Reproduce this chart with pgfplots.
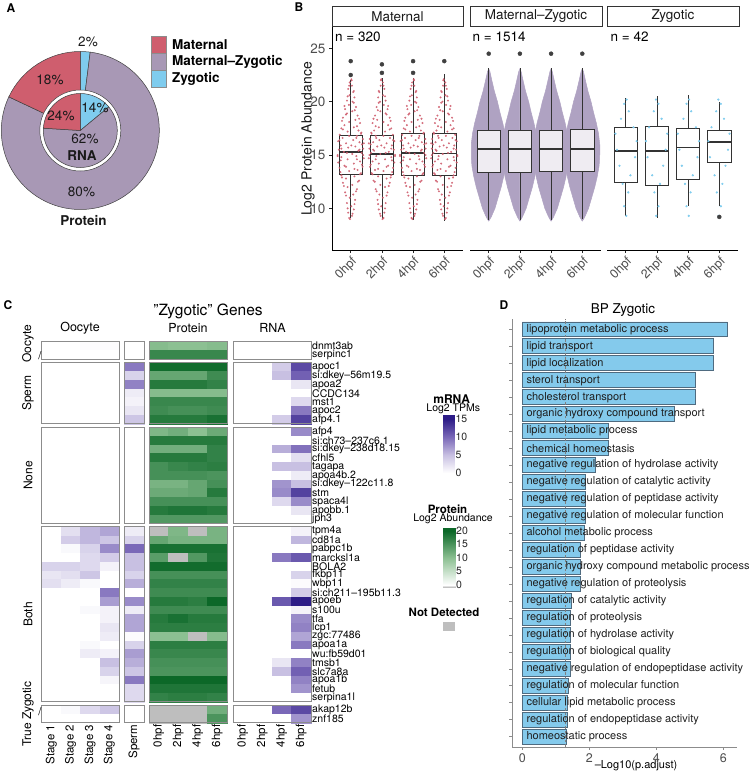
\documentclass[border=0pt]{standalone}
\usepackage{fontspec}
\setmainfont{TeX Gyre Heros}
\usepackage{pgfplots}
\usepackage{pgfplotstable}
\pgfplotsset{compat=1.18}
\usepgfplotslibrary{statistics}

\newcommand{\fs}[1]{\fontsize{#1}{#1}\selectfont}

\definecolor{matred}{HTML}{CF5E6E}
\definecolor{mzpurp}{HTML}{A898B5}
\definecolor{zygblue}{HTML}{7FCCEE}
\definecolor{mzcloud}{HTML}{AFA2C2}
\definecolor{tickgray}{HTML}{4D4D4D}
\definecolor{framegray}{HTML}{8C8C8C}
\definecolor{barblue}{HTML}{84CAEC}
\definecolor{barline}{HTML}{4F6B80}
\definecolor{nagray}{HTML}{BEBEBE}

\pgfplotsset{
  /pgf/number format/assume math mode=true,
  colormap={purp}{rgb255(0pt)=(255,255,255) rgb255(5pt)=(255,255,255) rgb255(10pt)=(200,192,226) rgb255(15pt)=(122,104,184) rgb255(20pt)=(45,28,135) rgb255(25pt)=(45,28,135)},
  colormap={grn}{rgb255(0pt)=(190,190,190) rgb255(4pt)=(190,190,190) rgb255(5pt)=(255,255,255) rgb255(15pt)=(140,192,146) rgb255(25pt)=(12,104,40)},
  facet/.style={
    scale only axis, width=131pt, height=223pt, anchor=south west,
    xmin=0.4, xmax=4.6, ymin=6.1, ymax=27.0,
    xtick={1,2,3,4}, xticklabels={0hpf,2hpf,4hpf,6hpf},
    x tick label style={rotate=45, anchor=north east, font=\fs{12.5}, text=tickgray, inner sep=1.5pt},
    y tick label style={font=\fs{13.5}, text=tickgray},
    tick align=outside, major tick length=3pt,
    tick style={black!85, line width=0.6pt},
    axis line style={black, line width=0.8pt},
    axis x line*=bottom, clip=false,
  },
  box/.style={draw=black!80, line width=0.8pt, fill=white, fill opacity=0.65, solid,
    mark=*, mark size=2pt, mark options={draw=black!75, fill=black!75, fill opacity=1, line width=0.4pt},
    boxplot/box extend=0.75, boxplot/whisker extend=0,
    boxplot/every median/.style={line width=1.8pt}, boxplot/draw direction=y},
  matdot/.style={only marks, mark=*, mark size=0.8pt, matred, opacity=0.8},
  zygdot/.style={only marks, mark=*, mark size=0.9pt, zygblue},
}

% jittered points of one Maternal box (offset from box centre, value)
\pgfplotstableread{
dx y
-0.05 9.1
0.04 9.3
-0.08 9.6
0.1 9.9
0.02 10.2
-0.12 10.5
0.14 10.8
-0.03 11.0
0.08 11.3
-0.18 11.5
0.2 11.8
-0.1 12.0
0.05 12.2
-0.25 12.4
0.27 12.6
-0.15 12.8
0.12 13.0
-0.3 13.1
0.33 13.3
-0.05 13.5
0.22 13.6
-0.36 13.8
0.38 13.9
-0.2 14.0
0.1 14.2
-0.4 14.3
0.3 14.4
-0.1 14.6
0.42 14.7
-0.3 14.8
0.18 14.9
-0.42 15.0
0.05 15.1
0.35 15.2
-0.22 15.3
0.25 15.4
-0.38 15.5
0.4 15.6
-0.08 15.7
0.15 15.8
-0.32 15.9
0.36 16.0
-0.15 16.1
0.28 16.2
-0.4 16.3
0.08 16.4
0.39 16.5
-0.26 16.6
0.2 16.8
-0.35 16.9
0.33 17.0
-0.1 17.2
0.25 17.3
-0.3 17.5
0.1 17.6
-0.2 17.8
0.3 18.0
-0.05 18.1
0.15 18.3
-0.25 18.5
0.22 18.7
-0.12 18.9
0.05 19.1
-0.18 19.3
0.17 19.5
-0.06 19.7
0.1 19.9
-0.12 20.1
0.12 20.4
-0.04 20.6
0.08 20.9
-0.08 21.2
0.04 21.5
-0.03 21.8
0.02 22.1
-0.02 9.0
0.06 9.5
-0.1 10.0
0.12 10.4
-0.15 11.2
0.17 11.6
-0.22 12.1
0.23 12.5
-0.28 12.9
0.3 13.2
-0.33 13.4
0.12 13.7
-0.15 13.9
0.36 14.1
-0.32 14.5
0.2 14.6
-0.42 14.9
0.4 15.0
-0.12 15.2
0.28 15.5
-0.3 15.6
0.02 15.9
0.42 16.1
-0.36 16.4
0.18 16.6
-0.05 16.8
0.34 17.1
-0.25 17.4
0.2 17.7
-0.28 18.2
0.27 18.4
-0.15 18.8
0.13 19.2
-0.2 19.6
0.06 20.0
-0.1 20.5
0.1 21.0
-0.05 21.5
0.03 22.0
}\matpts

% outline of the dense Maternal-Zygotic point cloud
\pgfplotstableread{
dx y
0 8.8
0.08 9.2
0.2 10
0.3 11
0.4 12
0.48 13
0.54 14
0.56 15
0.56 16
0.52 17
0.45 18
0.36 19
0.28 20
0.18 21
0.1 22
0.04 22.8
0 23.1
-0.04 22.8
-0.1 22
-0.18 21
-0.28 20
-0.36 19
-0.45 18
-0.52 17
-0.56 16
-0.56 15
-0.54 14
-0.48 13
-0.4 12
-0.3 11
-0.2 10
-0.08 9.2
0 8.8
}\mzshape

\pgfplotstableread{
dx y
0.02 9.3
-0.05 10.2
0.08 11.5
-0.1 12.3
0.15 13.1
-0.2 14.0
0.3 14.8
-0.28 15.5
0.35 16.3
-0.33 17.0
0.25 17.6
-0.15 18.4
0.1 19.1
-0.05 19.8
0.03 20.2
}\zygpts

% heatmap: row centre (px from top), gene, oocyte stages, sperm, protein, RNA; -5 = not detected
\pgfplotstableread{
y g o1 o2 o3 o4 sp p1 p2 p3 p4 r1 r2 r3 r4
346.08 dnmt3ab 0 0 0.3 0.3 0 10.5 10 10 10.5 0 0 0 0
354.83 serpinc1 0 0 0 0 0 16.5 16.5 16.5 16.5 0 0 0 0
366.98 apoc1 0 0 0 0 9 19.5 19.5 19.5 19.5 0 0 4 12
375.73 si:dkey--56m19.5 0 0 0 0 3.5 13 13 13 16 0 0 5 10.5
384.48 apoa2 0 0 0 0 8.5 18 18 18 17 0 0 0 2
393.23 CCDC134 0 0 0 0 1.5 10.5 10.5 10.5 10.5 0 0 0 0
401.98 mst1 0 0 0 0 1 16.5 16.5 16.5 16.5 0 0 0 3
410.73 apoc2 0 0 0 0 2 16 15.5 15.5 16 0 0 0 9
419.48 afp4.1 0 0 0 0 4.5 18 18 18 19 0 0 4 12.5
431.63 afp4 0 0 0 0 0 11 12 10 12.5 0 0 0 8
440.38 si:ch73--237c6.1 0 0 0 0 0 18 18 18 18 0 0 0 0
449.13 si:dkey--238d18.15 0 0 0 0 0 12 12 12 17 0 0 6 9.5
457.88 cfhl5 0 0 0 0 0 18 18 18 17 0 0 0 2.5
466.63 tagapa 0 0 0 0 0 15.5 16.5 17 17.5 0 0 5 5
475.38 apoa4b.2 0 0 0 0 0 15.5 15.5 15.5 15 0 0 0 1.5
484.13 si:dkey--122c11.8 0 0 0 0 0 11.5 11.5 13 15.5 0 0 7.5 5
492.88 stm 0 0 0 0 0 12.5 12.5 13 18 0 0 8 12.5
501.63 spaca4l 0 0 0 0 0 15.5 15.5 15.5 15.5 0 0 3 8
510.38 apobb.1 0 0 0 0 0 18 18.5 18.5 18 0 0 0 2
519.13 jph3 0 0 0 0 0 14.5 14.5 14.5 14.5 0 0 0 0
531.28 tpm4a 0 2.5 5.5 6.5 1.5 -5 11 -5 11.5 0 0 0 1
540.03 cd81a 0 4 5.5 4.5 3.5 13 11.5 11.5 11.5 0 0 0 5.5
548.78 pabpc1b 0 0.5 3.5 8 10 19 19 19 19 0 0 0 0
557.53 marcksl1a 0 0 3 4 5 14 -5 14.5 18.5 0 0 9 11
566.28 BOLA2 3.5 3.5 3 1 5 19.5 19.5 19.5 19.5 0 0 0 0
575.03 fkbp11 2 2.5 4.5 0 3.5 15.5 15.5 15.5 15.5 0 0 0 3.5
583.78 wbp11 2.5 1.5 0.5 0 6 17 17 17 17 0 0 0 0.3
592.53 si:ch211--195b11.3 0 0 0 9 0 16 16 16 16 0 0 0 4
601.28 apoeb 0 0 0 7 8 18 18 17.5 20 0 0 11 15
610.03 s100u 0 0 0.5 1 1.5 16 16 16 16 0 0 0 1
618.78 tfa 0 0 0 1 6.5 18 19 18 18 0 0 0 8
627.53 lcp1 0 0 0 2 6.5 17.5 17.5 17.5 17.5 0 0 0 8.5
636.28 zgc:77486 0 0 0 1.5 0.3 10 10 -5 10.5 0 0 0 6.5
645.03 apoa1a 0 0 0.5 0 3.5 17.5 17.5 17.5 17.5 0 0 0 9
653.78 wu:fb59d01 0 0 1.5 1 7 16.5 16.5 16.5 16.5 0 0 0 0
662.53 tmsb1 0 0 0 5 6 15.5 15.5 15.5 15.5 0 0 2 8.5
671.28 slc7a8a 0 0 0 3.5 4.5 15 15 15 15 0 0 5 10.5
680.03 apoa1b 0 0 0 0.8 9 20 20 20 20 0 0 0 8.5
688.78 fetub 0 0 0 0 3 18.5 18.5 18.5 18.5 0 0 0 7.5
697.53 serpina1l 0 0 0 0 3 17 17.5 17.5 17 0 0 0 0
709.68 akap12b 0 0.5 3 4.5 0 -5 -5 -5 12 0 0 10 12
718.43 znf185 0 0 0 0 0 -5 -5 -5 15 0 0 0 7.5
}\heat

\newcommand{\hcol}[4]{\addplot[scatter, only marks, mark=square*, mark size=4.375pt,
  scatter/use mapped color={draw=mapped color, fill=mapped color},
  colormap name=#1, point meta=\thisrow{#2}, mark options={xscale=#4, line width=0.3pt}]
  table[x expr=#3, y expr=-\thisrow{y}] {\heat};}

\begin{document}
\begin{tikzpicture}
\path[use as bounding box] (0pt,0pt) rectangle (753pt,-772pt);

% ---------------- A: donut ----------------
\node[anchor=base west, font=\bfseries\fs{12}] at (3pt,-12pt) {A};
\def\protM{18}\def\protMZ{80}\def\protZ{2}
\def\rnaM{24}\def\rnaMZ{62}\def\rnaZ{14}
\pgfmathsetmacro\pA{90-3.6*\protZ}
\pgfmathsetmacro\pB{\pA-3.6*\protMZ}
\pgfmathsetmacro\rA{90-3.6*\rnaZ}
\pgfmathsetmacro\rB{\rA-3.6*\rnaMZ}
\begin{axis}[at={(80.3pt,-130.5pt)}, anchor=center, scale only axis, width=170pt, height=170pt,
  xmin=-85, xmax=85, ymin=-85, ymax=85, hide axis, clip=false]
\draw[black!75, line width=0.5pt, fill=zygblue] (axis cs:0,0) -- ++(90:79pt) arc[start angle=90, end angle=\pA, radius=79pt] -- cycle;
\draw[black!75, line width=0.5pt, fill=mzpurp] (axis cs:0,0) -- ++(\pA:79pt) arc[start angle=\pA, end angle=\pB, radius=79pt] -- cycle;
\draw[black!75, line width=0.5pt, fill=matred] (axis cs:0,0) -- ++(\pB:79pt) arc[start angle=\pB, end angle=-270, radius=79pt] -- cycle;
\draw[black!75, line width=0.5pt, fill=white] (axis cs:0,0) circle[radius=40.5pt];
\draw[black!75, line width=0.5pt, fill=zygblue] (axis cs:0,0) -- ++(90:37pt) arc[start angle=90, end angle=\rA, radius=37pt] -- cycle;
\draw[black!75, line width=0.5pt, fill=mzpurp] (axis cs:0,0) -- ++(\rA:37pt) arc[start angle=\rA, end angle=\rB, radius=37pt] -- cycle;
\draw[black!75, line width=0.5pt, fill=matred] (axis cs:0,0) -- ++(\rB:37pt) arc[start angle=\rB, end angle=-270, radius=37pt] -- cycle;
\end{axis}
\begin{scope}[every node/.style={font=\fs{13.5}, text=black!90}]
\node at (88pt,-42pt) {\protZ\%};
\node at (50pt,-80pt) {\protM\%};
\node at (61pt,-116pt) {\rnaM\%};
\node at (95pt,-107.5pt) {\rnaZ\%};
\node at (85pt,-139pt) {\rnaMZ\%};
\node at (81.5pt,-192pt) {\protMZ\%};
\node[font=\bfseries\fs{13.5}] at (82pt,-156pt) {RNA};
\node[font=\bfseries\fs{13.5}] at (83.5pt,-221pt) {Protein};
\end{scope}
\foreach \c/\t/\y in {matred/Maternal/35.7, mzpurp/Maternal--Zygotic/53, zygblue/Zygotic/70.3}{
  \draw[black!45, line width=0.4pt, fill=\c] (150.7pt,-\y*1pt) rectangle (165.7pt,-\y*1pt-17.3pt);
  \node[anchor=west, font=\bfseries\fs{13.5}, inner sep=0pt] at (172pt,-\y*1pt-8.8pt) {\t};
}

% ---------------- B: boxplots ----------------
\node[anchor=base west, font=\bfseries\fs{12}] at (291pt,-11pt) {B};
\node[rotate=90, font=\fs{14}, text=black!90] at (308pt,-139pt) {Log2 Protein Abundance};

\begin{axis}[facet, at={(332pt,-250pt)}, axis y line*=left, ytick={10,15,20,25}]
\addplot[matdot] table[x expr=1+\thisrow{dx}, y=y] {\matpts};
\addplot[matdot] table[x expr=2-\thisrow{dx}, y=y] {\matpts};
\addplot[matdot] table[x expr=3+\thisrow{dx}, y=y] {\matpts};
\addplot[matdot] table[x expr=4-\thisrow{dx}, y=y] {\matpts};
\addplot[box, boxplot prepared={median=15.25, upper quartile=16.87, lower quartile=13.2, upper whisker=22.0, lower whisker=9.1, draw position=1}] coordinates {(0,23.8) (0,22.5)};
\addplot[box, boxplot prepared={median=15.1, upper quartile=16.8, lower quartile=13.2, upper whisker=22.2, lower whisker=9.05, draw position=2}] coordinates {(0,23.5) (0,22.7)};
\addplot[box, boxplot prepared={median=15.2, upper quartile=17.0, lower quartile=13.1, upper whisker=22.2, lower whisker=8.9, draw position=3}] coordinates {(0,23.8) (0,22.7)};
\addplot[box, boxplot prepared={median=15.15, upper quartile=17.0, lower quartile=13.1, upper whisker=22.6, lower whisker=8.8, draw position=4}] coordinates {(0,23.8)};
\end{axis}

\begin{axis}[facet, at={(470pt,-250pt)}, axis y line=none]
\addplot[fill=mzcloud, draw=mzcloud, line width=0.5pt] table[x expr=1+\thisrow{dx}, y=y] {\mzshape};
\addplot[fill=mzcloud, draw=mzcloud, line width=0.5pt] table[x expr=2+\thisrow{dx}, y=y] {\mzshape};
\addplot[fill=mzcloud, draw=mzcloud, line width=0.5pt] table[x expr=3+\thisrow{dx}, y=y] {\mzshape};
\addplot[fill=mzcloud, draw=mzcloud, line width=0.5pt] table[x expr=4+\thisrow{dx}, y=y] {\mzshape};
\addplot[box, fill opacity=0.8, boxplot prepared={median=15.6, upper quartile=17.35, lower quartile=13.4, upper whisker=23.2, lower whisker=8.9, draw position=1}] coordinates {(0,24.5)};
\addplot[box, fill opacity=0.8, boxplot prepared={median=15.6, upper quartile=17.35, lower quartile=13.4, upper whisker=23.2, lower whisker=8.9, draw position=2}] coordinates {(0,24.5)};
\addplot[box, fill opacity=0.8, boxplot prepared={median=15.6, upper quartile=17.35, lower quartile=13.45, upper whisker=23.2, lower whisker=8.9, draw position=3}] coordinates {(0,24.5)};
\addplot[box, fill opacity=0.8, boxplot prepared={median=15.6, upper quartile=17.4, lower quartile=13.45, upper whisker=23.2, lower whisker=9.0, draw position=4}] coordinates {(0,24.5)};
\end{axis}

\begin{axis}[facet, at={(607pt,-250pt)}, axis y line=none]
\addplot[zygdot] table[x expr=1+\thisrow{dx}, y=y] {\zygpts};
\addplot[zygdot] table[x expr=2-\thisrow{dx}, y=y] {\zygpts};
\addplot[zygdot] table[x expr=3+\thisrow{dx}, y=y] {\zygpts};
\addplot[zygdot] table[x expr=4-\thisrow{dx}, y=y] {\zygpts};
\addplot[box, fill opacity=0.9, boxplot prepared={median=15.35, upper quartile=17.6, lower quartile=12.4, upper whisker=20.3, lower whisker=9.3, draw position=1}] coordinates {};
\addplot[box, fill opacity=0.9, boxplot prepared={median=15.35, upper quartile=17.65, lower quartile=12.2, upper whisker=20.5, lower whisker=9.1, draw position=2}] coordinates {};
\addplot[box, fill opacity=0.9, boxplot prepared={median=15.7, upper quartile=17.5, lower quartile=12.7, upper whisker=20.6, lower whisker=10.2, draw position=3}] coordinates {};
\addplot[box, fill opacity=0.9, boxplot prepared={median=16.2, upper quartile=17.3, lower quartile=14.35, upper whisker=20.0, lower whisker=10.2, draw position=4}] coordinates {(0,9.2)};
\end{axis}

\foreach \xa/\xb/\t in {332/463/Maternal, 470/602/Maternal--Zygotic, 607/739/Zygotic}{
  \draw[black!80, line width=0.8pt, fill=white] (\xa*1pt,-6pt) rectangle (\xb*1pt,-26.5pt);
  \node[font=\fs{13.5}, text=black!90] at ({(\xa+\xb)/2*1pt},-16.5pt) {\t};
}
\node[anchor=west, font=\fs{13.5}, inner sep=0pt] at (335pt,-36.5pt) {n = 320};
\node[anchor=west, font=\fs{13.5}, inner sep=0pt] at (472.5pt,-36.5pt) {n = 1514};
\node[anchor=west, font=\fs{13.5}, inner sep=0pt] at (610.5pt,-36.5pt) {n = 42};

% ---------------- C: heatmap ----------------
\node[anchor=base west, font=\bfseries\fs{12}] at (0pt,-309pt) {C};
\node[font=\fs{15.5}] at (208pt,-311pt) {"Zygotic" Genes};
\node[font=\fs{12.5}] at (80pt,-328pt) {Oocyte};
\node[font=\fs{12.5}] at (188pt,-328pt) {Protein};
\node[font=\fs{12.5}] at (272.5pt,-328pt) {RNA};

\begin{axis}[at={(41.7pt,-723pt)}, anchor=south west,
  scale only axis, width=269.3pt, height=381.3pt,
  xmin=41.7, xmax=311, ymin=-723, ymax=-341.7,
  point meta min=-5, point meta max=20,
  axis line style={draw=none}, clip=false,
  xtick={51.37,70.7,90.02,109.35,134,158.75,178.25,197.75,217.25,242.75,262.25,281.75,301.25},
  xticklabels={Stage 1,Stage 2,Stage 3,Stage 4,Sperm,0hpf,2hpf,4hpf,6hpf,0hpf,2hpf,4hpf,6hpf},
  x tick label style={rotate=90, anchor=east, font=\fs{11.5}, inner sep=1.5pt},
  ytick=data, yticklabels from table={\heat}{g}, yticklabel pos=right,
  y tick label style={anchor=west, font=\fs{10.5}, inner sep=1pt},
  tick style={draw=none}]
\hcol{purp}{o1}{51.37}{2.21}
\hcol{purp}{o2}{70.7}{2.21}
\hcol{purp}{o3}{90.02}{2.21}
\hcol{purp}{o4}{109.35}{2.21}
\hcol{purp}{sp}{134}{2.29}
\hcol{grn}{p1}{158.75}{2.23}
\hcol{grn}{p2}{178.25}{2.23}
\hcol{grn}{p3}{197.75}{2.23}
\hcol{grn}{p4}{217.25}{2.23}
\hcol{purp}{r1}{242.75}{2.23}
\hcol{purp}{r2}{262.25}{2.23}
\hcol{purp}{r3}{281.75}{2.23}
\hcol{purp}{r4}{301.25}{2.23}
\end{axis}
\foreach \xa/\xb in {41.7/119, 124/144, 149/227, 233/311}{
  \foreach \ya/\yb in {341.7/359.2, 362.6/423.85, 427.25/523.5, 526.9/701.9, 705.3/722.8}{
    \draw[framegray, line width=1pt] (\xa*1pt,-\ya*1pt) rectangle (\xb*1pt,-\yb*1pt);
  }
}
\begin{scope}[every node/.style={rotate=90, font=\fs{12}}]
\node at (28pt,-344pt) {Oocyte};
\node at (28pt,-393pt) {Sperm};
\node at (28pt,-475.4pt) {None};
\node at (28pt,-614.4pt) {Both};
\node at (28pt,-714pt) {True Zygotic};
\end{scope}
\node[font=\fs{11}] at (40pt,-356pt) {/};
\node[font=\fs{11}] at (40pt,-712pt) {/};

% legends of C
\node[anchor=base, font=\bfseries\fs{12}] at (451.7pt,-403pt) {mRNA};
\node[anchor=base, font=\fs{10.5}] at (453.3pt,-411pt) {Log2 TPMs};
\begin{axis}[at={(442.7pt,-475pt)}, anchor=south west, scale only axis, width=11.6pt, height=60pt,
  xmin=0, xmax=1, ymin=-0.5, ymax=16.1, point meta min=-5, point meta max=20,
  xtick=\empty, ytick={0,5,10,15}, yticklabel pos=right, tick align=inside, major tick length=2.5pt,
  tick style={white, line width=0.6pt}, axis line style={draw=black!20, line width=0.4pt},
  y tick label style={font=\fs{10.5}, text=black!85, inner sep=1pt}]
\addplot[surf, shader=interp, colormap name=purp, point meta=y] coordinates {
(0,-0.5) (1,-0.5)

(0,0) (1,0)

(0,5) (1,5)

(0,10) (1,10)

(0,15) (1,15)

(0,16.1) (1,16.1)
};
\end{axis}

\node[anchor=base, font=\bfseries\fs{11.5}] at (447.5pt,-513pt) {Protein};
\node[anchor=base, font=\fs{10.5}] at (453pt,-521.5pt) {Log2 Abundance};
\begin{axis}[at={(442.7pt,-587.3pt)}, anchor=south west, scale only axis, width=12.3pt, height=59.6pt,
  xmin=0, xmax=1, ymin=-0.96, ymax=21.1, point meta min=-5, point meta max=20,
  xtick=\empty, ytick={0,5,10,15,20}, yticklabel pos=right, tick align=inside, major tick length=2.5pt,
  tick style={white, line width=0.6pt}, axis line style={draw=black!20, line width=0.4pt},
  y tick label style={font=\fs{10.5}, text=black!85, inner sep=1pt}]
\addplot[surf, shader=interp, colormap name=grn, point meta=y] coordinates {
(0,-0.96) (1,-0.96)

(0,0) (1,0)

(0,10) (1,10)

(0,20) (1,20)

(0,21.1) (1,21.1)
};
\end{axis}

\node[anchor=base, font=\bfseries\fs{11.5}] at (444pt,-616pt) {Not Detected};
\fill[nagray] (443pt,-622pt) rectangle (455pt,-631pt);

% ---------------- D: GO bars ----------------
\node[anchor=base west, font=\bfseries\fs{12}] at (496pt,-309pt) {D};
\node[font=\fs{13.5}] at (623pt,-310pt) {BP Zygotic};
\node[font=\fs{11}] at (636pt,-766pt) {--Log10(p.adjust)};
\begin{axis}[at={(512.3pt,-746.9pt)}, anchor=south west,
  scale only axis, width=224.7pt, height=427.8pt,
  xmin=-0.3, xmax=6.41, ymin=0.4, ymax=25.6,
  axis x line*=bottom, axis y line*=left,
  axis line style={black!45, line width=0.8pt},
  xtick={0,2,4,6}, ytick={1,...,25}, yticklabel=\mbox{},
  tick align=outside, major tick length=3pt, tick style={black!45, line width=0.6pt},
  x tick label style={font=\fs{12.5}, text=tickgray},
  clip=false]
\addplot[xbar, bar width=0.88, fill=barblue, draw=barline, line width=0.6pt] coordinates {
(6.12,25) (5.70,24) (5.70,23) (5.16,22) (5.16,21) (4.54,20) (2.57,19) (2.57,18)
(2.19,17) (1.89,16) (1.89,15) (1.89,14) (1.85,13) (1.73,12) (1.73,11) (1.74,10)
(1.46,9) (1.42,8) (1.42,7) (1.42,6) (1.44,5) (1.36,4) (1.34,3) (1.34,2) (1.32,1)};
\addplot[black!50, dash pattern=on 2.5pt off 2pt, line width=0.8pt] coordinates {(1.3,0.4) (1.3,25.6)};
\begin{scope}[every node/.style={anchor=west, font=\fs{11}, text=black!88, inner sep=0pt}]
\node at (axis cs:0.12,25) {lipoprotein metabolic process};
\node at (axis cs:0.12,24) {lipid transport};
\node at (axis cs:0.12,23) {lipid localization};
\node at (axis cs:0.12,22) {sterol transport};
\node at (axis cs:0.12,21) {cholesterol transport};
\node at (axis cs:0.12,20) {organic hydroxy compound transport};
\node at (axis cs:0.12,19) {lipid metabolic process};
\node at (axis cs:0.12,18) {chemical homeostasis};
\node at (axis cs:0.12,17) {negative regulation of hydrolase activity};
\node at (axis cs:0.12,16) {negative regulation of catalytic activity};
\node at (axis cs:0.12,15) {negative regulation of peptidase activity};
\node at (axis cs:0.12,14) {negative regulation of molecular function};
\node at (axis cs:0.12,13) {alcohol metabolic process};
\node at (axis cs:0.12,12) {regulation of peptidase activity};
\node at (axis cs:0.12,11) {organic hydroxy compound metabolic process};
\node at (axis cs:0.12,10) {negative regulation of proteolysis};
\node at (axis cs:0.12,9) {regulation of catalytic activity};
\node at (axis cs:0.12,8) {regulation of proteolysis};
\node at (axis cs:0.12,7) {regulation of hydrolase activity};
\node at (axis cs:0.12,6) {regulation of biological quality};
\node at (axis cs:0.12,5) {negative regulation of endopeptidase activity};
\node at (axis cs:0.12,4) {regulation of molecular function};
\node at (axis cs:0.12,3) {cellular lipid metabolic process};
\node at (axis cs:0.12,2) {regulation of endopeptidase activity};
\node at (axis cs:0.12,1) {homeostatic process};
\end{scope}
\end{axis}
\end{tikzpicture}
\end{document}
